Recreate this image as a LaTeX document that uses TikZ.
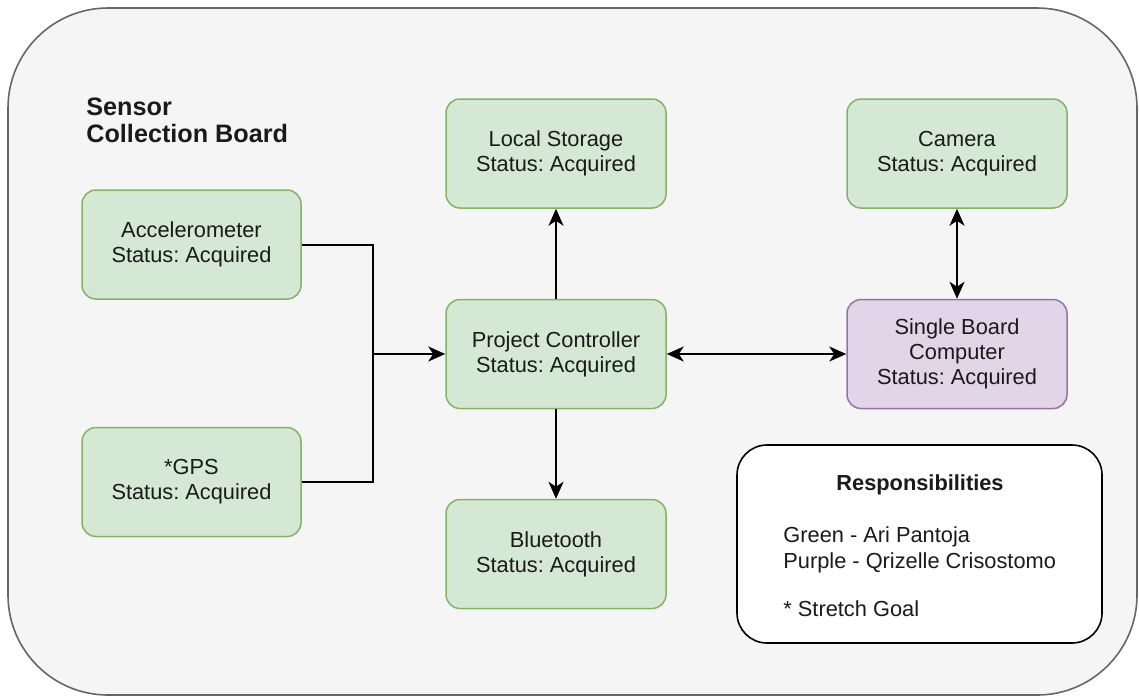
\documentclass[tikz,border=0pt]{standalone}
\usepackage{fontspec}
\setmainfont{Liberation Sans}
\usetikzlibrary{arrows.meta}
\frenchspacing

\definecolor{boardfill}{HTML}{F5F5F5}
\definecolor{boardline}{HTML}{666666}
\definecolor{gfill}{HTML}{D5E8D4}
\definecolor{gline}{HTML}{82B366}
\definecolor{pfill}{HTML}{E1D5E7}
\definecolor{pline}{HTML}{9673A6}
\definecolor{ink}{HTML}{1A1A1A}

\tikzset{
  board/.style={draw=boardline, fill=boardfill, line width=0.8pt, rounded corners=50pt},
  part/.style={rectangle, rounded corners=7pt, draw=gline, fill=gfill, line width=0.75pt,
    minimum width=110pt, minimum height=54.5pt, align=center, text=ink, inner sep=0pt,
    font=\fontsize{10.9}{12.6}\selectfont},
  partp/.style={part, draw=pline, fill=pfill},
  legendbox/.style={rectangle, rounded corners=15pt, draw=black, fill=white, line width=0.8pt,
    minimum width=182.5pt, minimum height=99pt, inner sep=0pt},
  label/.style={text=ink, inner sep=0pt, font=\fontsize{10.9}{12.6}\selectfont},
  wire/.style={draw=black, line width=1pt},
  arr/.style={wire, -{Stealth[length=8.5pt, width=7.5pt, inset=2.5pt]}},
  darr/.style={wire, {Stealth[length=8.5pt, width=7.5pt, inset=2.5pt]}-{Stealth[length=8.5pt, width=7.5pt, inset=2.5pt]}}
}

\begin{document}
\begin{tikzpicture}[x=0.5pt, y=-0.5pt]
  \useasboundingbox (0,0) rectangle (1139,698);

  % enclosing board
  \draw[board] (8,8) rectangle (1137,695);

  % board title
  \node[label, anchor=base west, font=\fontsize{12.6}{13.5}\selectfont\bfseries] (title1) at (86,115) {Sensor};
  \node[label, anchor=base west, font=\fontsize{12.6}{13.5}\selectfont\bfseries] (title2) at (86,142) {Collection Board};

  % components
  \node[part, minimum width=109.5pt] (acc) at (191.5,244.5) {Accelerometer\\Status: Acquired};
  \node[part, minimum width=109.5pt] (gps) at (191.5,482) {*GPS\\Status: Acquired};
  \node[part] (ls)  at (556,153.5) {Local Storage\\Status: Acquired};
  \node[part] (pc)  at (556,354) {Project Controller\\Status: Acquired};
  \node[part] (bt)  at (556,554) {Bluetooth\\Status: Acquired};
  \node[part] (cam) at (957,153.5) {Camera\\Status: Acquired};
  \node[partp] (sbc) at (957,354) {Single Board\\Computer\\Status: Acquired};

  % legend
  \node[legendbox] (resp) at (919.5,544) {};
  \node[label, anchor=base, font=\fontsize{10.9}{12.6}\selectfont\bfseries] (resptitle) at (920,490) {Responsibilities};
  \node[label, anchor=base west] (respg) at (783,542) {Green - Ari Pantoja};
  \node[label, anchor=base west] (respp) at (783,568) {Purple - Qrizelle Crisostomo};
  \node[label, anchor=base west] (resps) at (783,616) {* Stretch Goal};

  % sensor inputs merge into the controller
  \coordinate (j) at (373,354);
  \draw[wire] (acc.east) -| (j);
  \draw[wire] (gps.east) -| (j);
  \draw[arr] (j) -- (pc.west);

  % controller links
  \draw[arr] (pc.north) -- (ls.south);
  \draw[arr] (pc.south) -- (bt.north);
  \draw[darr] (pc.east) -- (sbc.west);
  \draw[darr] (cam.south) -- (sbc.north);
\end{tikzpicture}
\end{document}
